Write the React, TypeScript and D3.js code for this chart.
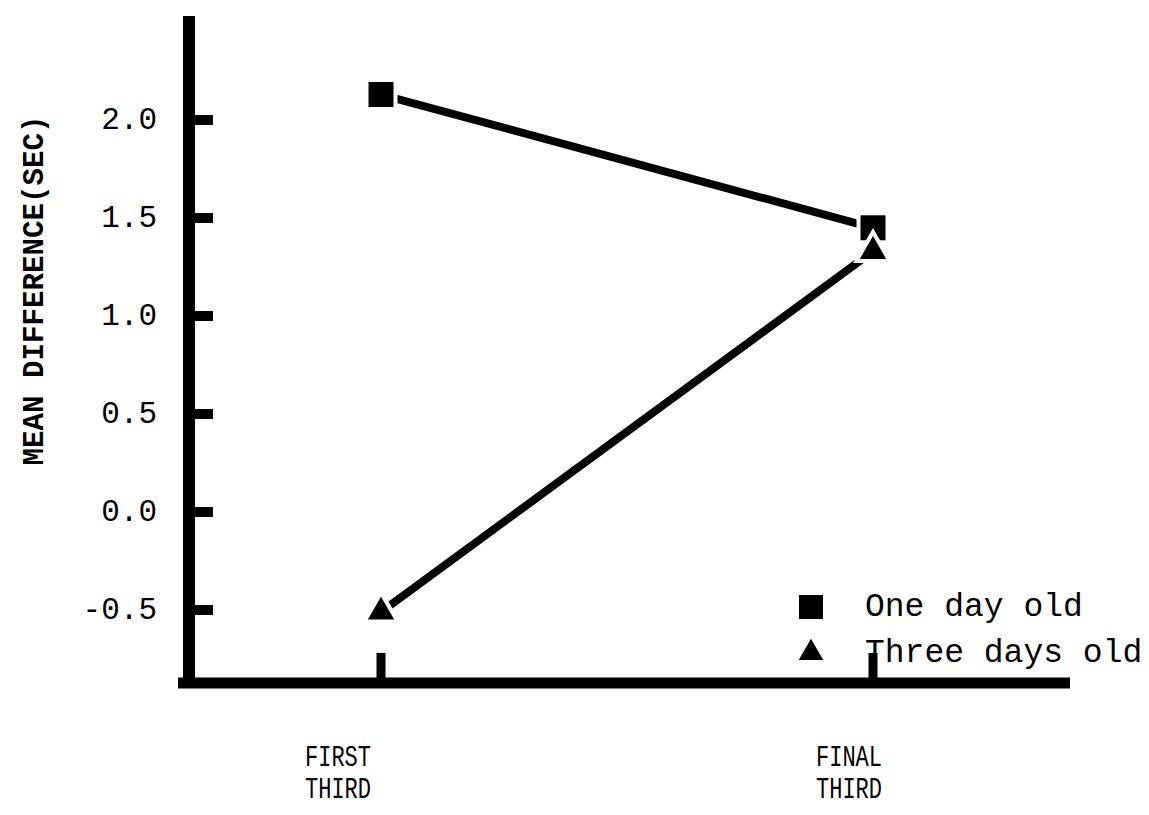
import React from "react";
import * as d3 from "d3";

const categories = ["FIRST THIRD", "FINAL THIRD"];
const oneDayOld = [2.13, 1.45];
const threeDaysOld = [-0.51, 1.33];
const yTicks = [-0.5, 0.0, 0.5, 1.0, 1.5, 2.0];
const legendLabels = ["One day old", "Three days old"];
const yLabel = "MEAN DIFFERENCE(SEC)";

const W = 1149;
const H = 815;

export default function App() {
  const x = d3.scalePoint<string>().domain(categories).range([381, 873]);
  const xLabel = d3.scalePoint<string>().domain(categories).range([338, 849]);
  const y = d3.scaleLinear().domain([-0.5, 2.0]).range([610, 120]);
  const axisX = 189;
  const axisY = y(-0.872);
  const axisTop = y(2.53);
  const line = d3
    .line<number>()
    .x((_, i) => x(categories[i]) as number)
    .y((d) => y(d));
  const mono = "'Liberation Mono', 'Courier New', monospace";
  const tri = d3.symbol().type(d3.symbolTriangle).size(300)() as string;
  const sq = 25;
  return (
    <svg
      width={W}
      height={H}
      style={{ position: "absolute", left: 0, top: 0, background: "#fff" }}
    >
      {/* y axis */}
      <line x1={axisX} x2={axisX} y1={axisTop} y2={axisY + 5} stroke="#000" strokeWidth={12} />
      {yTicks.map((t) => (
        <g key={t}>
          <line x1={axisX} x2={213} y1={y(t)} y2={y(t)} stroke="#000" strokeWidth={10} />
          <text
            x={157}
            y={y(t)}
            textAnchor="end"
            dominantBaseline="central"
            fontFamily={mono}
            fontSize={31}
          >
            {t < 0 ? "-" + Math.abs(t).toFixed(1) : t.toFixed(1)}
          </text>
        </g>
      ))}
      <text
        transform={`translate(35,${y(1.13)}) rotate(-90)`}
        textAnchor="middle"
        dominantBaseline="central"
        fontFamily={mono}
        fontWeight="bold"
        fontSize={29}
        textLength={350}
        lengthAdjust="spacingAndGlyphs"
      >
        {yLabel}
      </text>
      {/* x axis */}
      <line x1={178} x2={1070} y1={axisY} y2={axisY} stroke="#000" strokeWidth={11} />
      {categories.map((c) => {
        const parts = c.split(" ");
        return (
          <g key={c}>
            <line x1={x(c)} x2={x(c)} y1={axisY} y2={axisY - 30} stroke="#000" strokeWidth={9} />
            {parts.map((p, i) => (
              <text
                key={p}
                x={xLabel(c) as number}
                y={758 + i * 32}
                textAnchor="middle"
                dominantBaseline="central"
                fontFamily={mono}
                fontSize={30}
                textLength={66}
                lengthAdjust="spacingAndGlyphs"
              >
                {p}
              </text>
            ))}
          </g>
        );
      })}
      {/* lines */}
      <path d={line(oneDayOld) as string} fill="none" stroke="#000" strokeWidth={8} />
      <path d={line(threeDaysOld) as string} fill="none" stroke="#000" strokeWidth={8} />
      {/* markers */}
      {oneDayOld.map((v, i) => (
        <rect
          key={"s" + i}
          x={(x(categories[i]) as number) - sq / 2}
          y={y(v) - sq / 2}
          width={sq}
          height={sq}
          fill="#000"
          stroke="#fff"
          strokeWidth={8}
          paintOrder="stroke"
        />
      ))}
      {threeDaysOld.map((v, i) => (
        <path
          key={"t" + i}
          d={tri}
          transform={`translate(${x(categories[i])},${y(v)})`}
          fill="#000"
          stroke="#fff"
          strokeWidth={8}
          paintOrder="stroke"
        />
      ))}
      {/* legend */}
      {legendLabels.map((l, i) => (
        <g key={l} transform={`translate(811,${607 + i * 46})`}>
          {i === 0 ? (
            <rect x={-12} y={-12} width={24} height={24} fill="#000" />
          ) : (
            <path d={d3.symbol().type(d3.symbolTriangle).size(260)() as string} fill="#000" />
          )}
          <text x={54} y={0} dominantBaseline="central" fontFamily={mono} fontSize={33}>
            {l}
          </text>
        </g>
      ))}
    </svg>
  );
}
